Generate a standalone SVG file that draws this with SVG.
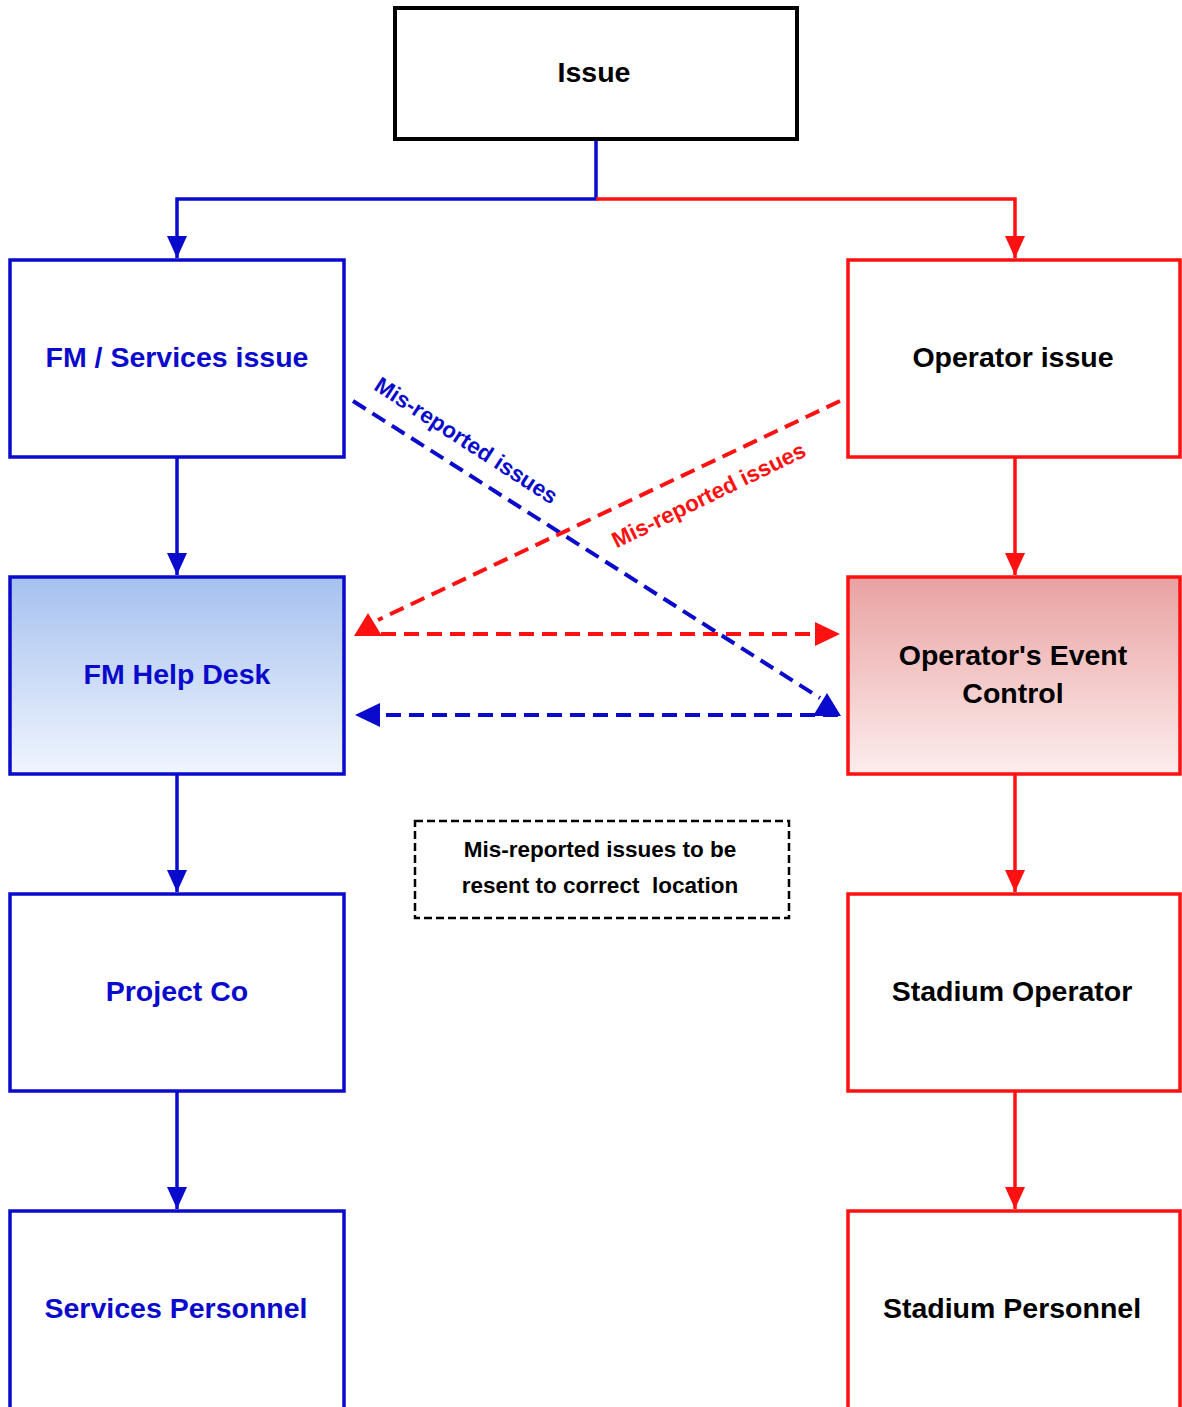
<svg xmlns="http://www.w3.org/2000/svg" width="1182" height="1407" viewBox="0 0 1182 1407">
<defs>
<linearGradient id="gBlue" x1="0" y1="0" x2="0" y2="1">
<stop offset="0" stop-color="#A6C1EF"/><stop offset="1" stop-color="#F0F5FE"/>
</linearGradient>
<linearGradient id="gRed" x1="0" y1="0" x2="0" y2="1">
<stop offset="0" stop-color="#E9A2A2"/><stop offset="1" stop-color="#FDEDED"/>
</linearGradient>
<marker id="aBlue" markerUnits="userSpaceOnUse" markerWidth="22" markerHeight="22" refX="22" refY="10" orient="auto">
<path d="M0,0 L22,10 L0,20 z" fill="#0A0ACC"/>
</marker>
<marker id="aRed" markerUnits="userSpaceOnUse" markerWidth="22" markerHeight="22" refX="22" refY="10" orient="auto">
<path d="M0,0 L22,10 L0,20 z" fill="#FF1111"/>
</marker>
</defs>
<style>
.box{fill:#fff;stroke-width:3.5}
.b{stroke:#0A0ACC}
.r{stroke:#FF1111}
.t{font-family:"Liberation Sans",Arial,sans-serif;font-weight:bold;font-size:28.5px;text-anchor:middle}
.tb{fill:#0A0ACC}
.tk{fill:#000}
.ln{fill:none;stroke-width:3.5}
.dash{fill:none;stroke-width:4;stroke-dasharray:15,8}
.lbl{font-family:"Liberation Sans",Arial,sans-serif;font-weight:bold;font-size:22.5px;text-anchor:middle}
.note{font-family:"Liberation Sans",Arial,sans-serif;font-weight:bold;font-size:22.5px;text-anchor:middle;fill:#000;white-space:pre}
</style>
<g id="connectors">
<path class="ln b" d="M596,139 V199 H177 V258" marker-end="url(#aBlue)"/>
<path class="ln r" d="M596,199 H1015 V258" marker-end="url(#aRed)"/>
<path class="ln b" d="M177,457 V575" marker-end="url(#aBlue)"/>
<path class="ln b" d="M177,774 V892" marker-end="url(#aBlue)"/>
<path class="ln b" d="M177,1091 V1209" marker-end="url(#aBlue)"/>
<path class="ln r" d="M1015,457 V575" marker-end="url(#aRed)"/>
<path class="ln r" d="M1015,774 V892" marker-end="url(#aRed)"/>
<path class="ln r" d="M1015,1091 V1209" marker-end="url(#aRed)"/>
<path class="dash b" d="M353,401 L820,698"/>
<path class="dash r" d="M840,401 L378,620"/>
<path class="dash r" d="M358,634 L818,634"/>
<polygon points="840,634 815,622 815,646" fill="#FF1111"/>
<polygon points="368,613 354,636 382,636" fill="#FF1111"/>
<path class="dash b" d="M838,715 L378,715"/>
<polygon points="355,715 380,703 380,727" fill="#0A0ACC"/>
<polygon points="827,693 813,716 841,716" fill="#0A0ACC"/>
<text class="lbl" fill="#0A0ACC" transform="translate(462,447) rotate(33)">Mis-reported issues</text>
<text class="lbl" fill="#FF1111" transform="translate(712,502) rotate(-26)">Mis-reported issues</text>
</g>
<g id="issue">
<rect x="395" y="8" width="402" height="131" fill="#fff" stroke="#000" stroke-width="4"/>
<text class="t tk" x="594" y="82">Issue</text>
</g>
<g id="fm-services-issue">
<rect class="box b" x="10" y="260" width="334" height="197"/>
<text class="t tb" x="177" y="367">FM / Services issue</text>
</g>
<g id="operator-issue">
<rect class="box r" x="848" y="260" width="332" height="197"/>
<text class="t tk" x="1013" y="367">Operator issue</text>
</g>
<g id="fm-help-desk">
<rect class="box b" x="10" y="577" width="334" height="197" style="fill:url(#gBlue)"/>
<text class="t tb" x="177" y="684">FM Help Desk</text>
</g>
<g id="operators-event-control">
<rect class="box r" x="848" y="577" width="332" height="197" style="fill:url(#gRed)"/>
<text class="t tk" x="1013" y="665">Operator's Event</text>
<text class="t tk" x="1013" y="703">Control</text>
</g>
<g id="project-co">
<rect class="box b" x="10" y="894" width="334" height="197"/>
<text class="t tb" x="177" y="1001">Project Co</text>
</g>
<g id="stadium-operator">
<rect class="box r" x="848" y="894" width="332" height="197"/>
<text class="t tk" x="1012" y="1001">Stadium Operator</text>
</g>
<g id="services-personnel">
<rect class="box b" x="10" y="1211" width="334" height="210"/>
<text class="t tb" x="176" y="1318">Services Personnel</text>
</g>
<g id="stadium-personnel">
<rect class="box r" x="848" y="1211" width="332" height="210"/>
<text class="t tk" x="1012" y="1318">Stadium Personnel</text>
</g>
<g id="note">
<rect x="415" y="821" width="374" height="97" fill="#fff" stroke="#000" stroke-width="2.5" stroke-dasharray="8,4"/>
<text class="note" x="600" y="857">Mis-reported issues to be</text>
<text class="note" x="600" y="893">resent to correct  location</text>
</g>
</svg>
